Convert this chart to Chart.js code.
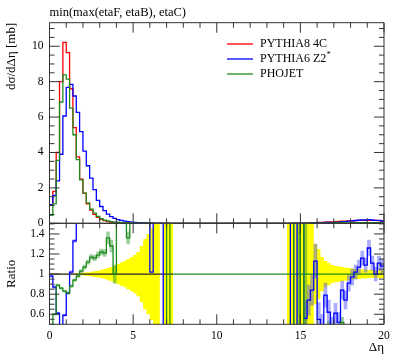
<!DOCTYPE html>
<html><head><meta charset="utf-8">
<script src="https://cdn.jsdelivr.net/npm/chart.js@4/dist/chart.umd.min.js"></script>
<style>
html,body{margin:0;padding:0;background:#fff;}
#wrap{position:relative;width:397px;height:358px;overflow:hidden;background:#fff;}
canvas{position:absolute;left:0;}
#c1{top:0}
#c2{top:215px}
</style></head><body>
<div id="wrap"><canvas id="c1" width="397" height="232"></canvas><canvas id="c2" width="397" height="143"></canvas></div>
<script>
// ---------------- DATA ----------------
const chartTitle = 'min(max(etaF, etaB), etaC)';
const seriesNames = ['PYTHIA8 4C', 'PYTHIA6 Z2*', 'PHOJET'];
const binEdges = Array.from({length: 101}, (_, i) => +(i * 0.2).toFixed(1)); // Δη bins, 0..20
const xTickLabels = [0, 5, 10, 15, 20];
const yTickLabels = [0, 2, 4, 6, 8, 10];
const ratioTickLabels = [0.6, 0.8, 1, 1.2, 1.4];

const pythia8 = [
1.05, 1.8, 4.0, 8.0, 10.22, 9.64, 7.6, 5.4, 3.75, 2.5,
1.7, 1.1, 0.75, 0.5, 0.33, 0.22, 0.15, 0.1, 0.07, 0.05,
0.035, 0.025, 0.018, 0.012, 0.008, 0.006, 0.004, 0.003, 0.002, 0.0015,
0.001, 0.0008, 0.0005, 0.0003, 0, 0, 0, 0, 0, 0,
0, 0, 0, 0, 0, 0, 0, 0, 0, 0,
0, 0, 0, 0, 0, 0, 0, 0, 0, 0,
0, 0, 0, 0, 0, 0, 0, 0, 0, 0,
0, 0.001, 0.002, 0.003, 0.005, 0.008, 0.012, 0.018, 0.025, 0.035,
0.045, 0.055, 0.065, 0.075, 0.085, 0.095, 0.105, 0.115, 0.125, 0.135,
0.145, 0.155, 0.16, 0.165, 0.17, 0.17, 0.165, 0.16, 0.15, 0.12];

const pythia6 = [
1.05, 1.57, 2.4, 3.9, 6.06, 7.68, 7.85, 7.19, 6.27, 5.18,
4.08, 3.25, 2.55, 1.9, 1.3, 0.95, 0.72, 0.52, 0.38, 0.28,
0.21, 0.16, 0.12, 0.09, 0.07, 0.05, 0.04, 0.03, 0.02, 0.015,
0.01, 0.008, 0.005, 0.004, 0.003, 0.002, 0.001, 0, 0, 0,
0, 0, 0, 0, 0, 0, 0, 0, 0, 0,
0, 0, 0, 0, 0, 0, 0, 0, 0, 0,
0, 0, 0, 0, 0, 0, 0, 0, 0, 0,
0, 0.001, 0.001, 0.002, 0.003, 0.005, 0.007, 0.013, 0.021, 0.04,
0.025, 0.028, 0.05, 0.047, 0.04, 0.058, 0.055, 0.097, 0.092, 0.123,
0.14, 0.158, 0.171, 0.19, 0.185, 0.21, 0.185, 0.16, 0.167, 0.13];

const phojet = [
0.45, 1.1, 3.55, 6.85, 8.38, 8.14, 6.5, 5.0, 3.6, 2.45,
1.7, 1.15, 0.8, 0.58, 0.39, 0.26, 0.18, 0.135, 0.09, 0.05,
0.06, 0.04, 0.03, 0.017, 0.012, 0.008, 0.006, 0.004, 0.003, 0.002,
0.0015, 0.001, 0.0008, 0.0005, 0.0003, 0, 0, 0, 0, 0,
0, 0, 0, 0, 0, 0, 0, 0, 0, 0,
0, 0, 0, 0, 0, 0, 0, 0, 0, 0,
0, 0, 0, 0, 0, 0, 0, 0, 0, 0,
0, 0, 0.001, 0, 0.001, 0, 0.001, 0.002, 0.003, 0.004,
0.005, 0.006, 0.008, 0.01, 0.012, 0.045, 0.015, 0.055, 0.02, 0.025,
0.03, 0.03, 0.03, 0.035, 0.035, 0.035, 0.03, 0.03, 0.03, 0.025];

// ratio panel (MC / PYTHIA8 4C), off-scale values are clipped by the panel
const ratioPythia6 = [
0.98, 0.87, 0.61, 0.45, 0.59, 0.81, 1.02, 1.33, 1.67, 2.07,
2.4, 2.95, 3.4, 3.8, 3.9, 4.3, 4.8, 5.2, 5.4, 5.6,
6.0, 6.4, 6.7, 7.5, 8.8, 8.3, 10, 10, 10, 10,
1.02, 10, 10, 10, 0.2, null, null, null, null, null,
null, null, null, null, null, null, null, null, null, null,
null, null, null, null, null, null, null, null, null, null,
null, null, null, null, null, null, null, null, null, null,
null, 10, 0.2, 10, 0.2, 10, 0.56, 0.74, 0.84, 1.13,
0.55, 0.45, 0.79, 0.62, 0.45, 0.61, 0.52, 0.84, 0.74, 0.91,
0.97, 1.02, 1.07, 1.16, 1.09, 1.26, 1.11, 1.0, 1.11, 1.08];

const ratioPhojet = [
0.43, 0.6, 0.89, 0.86, 0.83, 0.81, 0.88, 0.94, 0.98, 1.03,
1.07, 1.12, 1.17, 1.16, 1.19, 1.22, 1.21, 1.36, 1.28, 1.0,
1.7, 1.8, 2.0, 1.36, 1.9, 2.2, 2.5, 3.0, 2.8, 4.0,
3.5, 5, 6, 8, 10, 0.2, 10, null, null, null,
null, null, null, null, null, null, null, null, null, null,
null, null, null, null, null, null, null, null, null, null,
null, null, null, null, null, null, null, null, null, null,
null, 10, 10, 0.2, 0.2, 10, 0.2, 0.3, 0.3, 0.35,
0.3, 0.4, 0.35, 0.48, 0.3, 0.35, 0.4, 0.52, 0.35, 0.3,
0.3, 0.35, 0.3, 0.3, 0.35, 0.3, 0.3, 0.3, 0.3, 0.3];

const errPythia6 = [
0.01, 0.012, 0.012, 0.015, 0.01, 0.01, 0.012, 0.015, null, null,
null, null, null, null, null, null, null, null, null, null,
null, null, null, null, null, null, null, null, null, null,
null, null, null, null, null, null, null, null, null, null,
null, null, null, null, null, null, null, null, null, null,
null, null, null, null, null, null, null, null, null, null,
null, null, null, null, null, null, null, null, null, null,
null, null, null, null, null, null, 0.17, 0.15, 0.15, 0.17,
0.17, 0.15, 0.12, 0.12, 0.12, 0.1, 0.1, 0.09, 0.09, 0.08,
0.08, 0.07, 0.07, 0.07, 0.07, 0.08, 0.07, 0.07, 0.07, 0.07];

const errPhojet = [
0.01, 0.01, 0.01, 0.01, 0.01, 0.01, 0.012, 0.012, 0.015, 0.015,
0.02, 0.02, 0.025, 0.025, 0.03, 0.03, 0.035, 0.06, 0.06, 0.09,
null, null, null, 0.06, null, null, null, null, null, null,
null, null, null, null, null, null, null, null, null, null,
null, null, null, null, null, null, null, null, null, null,
null, null, null, null, null, null, null, null, null, null,
null, null, null, null, null, null, null, null, null, null,
null, null, null, null, 3, null, 3, null, null, null,
null, null, null, 0.05, null, null, null, 0.05, null, null,
null, null, null, null, null, null, null, null, null, null];

// relative uncertainty of the reference (yellow band); 2 = beyond the panel
const refRelErr = [
0.003, 0.003, 0.003, 0.003, 0.003, 0.004, 0.005, 0.007, 0.009, 0.012,
0.015, 0.019, 0.023, 0.028, 0.034, 0.04, 0.05, 0.06, 0.07, 0.085,
0.1, 0.115, 0.13, 0.15, 0.17, 0.19, 0.22, 0.28, 0.35, 0.4,
0.46, 2, 2, null, 2, 2, 2, null, null, null,
null, null, null, null, null, null, null, null, null, null,
null, null, null, null, null, null, null, null, null, null,
null, null, null, null, null, null, null, null, null, null,
null, 2, 2, 2, 2, 2, 2, 2, 0.5, 0.3,
0.25, 0.17, 0.13, 0.11, 0.09, 0.08, 0.075, 0.07, 0.065, 0.06,
0.055, 0.05, 0.05, 0.045, 0.045, 0.04, 0.04, 0.04, 0.04, 0.04];

const refRatio = [
1, 1, 1, 1, 1, 1, 1, 1, 1, 1, 1, 1, 1, 1, 1, 1, 1, 1, 1, 1,
1, 1, 1, 1, 1, 1, 1, 1, 1, 1, 1, 1, 1, 1, 1, 1, 1, 1, 1, 1,
1, 1, 1, 1, 1, 1, 1, 1, 1, 1, 1, 1, 1, 1, 1, 1, 1, 1, 1, 1,
1, 1, 1, 1, 1, 1, 1, 1, 1, 1, 1, 1, 1, 1, 1, 1, 1, 1, 1, 1,
1, 1, 1, 1, 1, 1, 1, 1, 1, 1, 1, 1, 1, 1, 1, 1, 1, 1, 1, 1];

// ---------------- STYLE ----------------
const COL = {red: '#ff0000', blue: '#0000ff', green: '#1f8a1f', frame: '#333333'};
const FONT = '"Liberation Serif", "Times New Roman", serif';
const unityGreenFrom = 7.4;

// ---------------- HELPERS ----------------
function histPoints(values) {
  const pts = [];
  values.forEach((v, i) => {
    if (v === null || v === undefined) { pts.push({x: binEdges[i], y: null}); return; }
    pts.push({x: binEdges[i], y: v}, {x: binEdges[i + 1], y: v});
  });
  return pts;
}
function errBars(ratio, err) {
  const out = [];
  ratio.forEach((r, i) => {
    if (r === null || err[i] === null) return;
    out.push({x: (binEdges[i] + binEdges[i + 1]) / 2, y: [r - err[i], r + err[i]]});
  });
  return out;
}
const bandHi = refRelErr.map((e, i) => e === null ? null : refRatio[i] + e);
const bandLo = refRelErr.map((e, i) => e === null ? null : refRatio[i] - e);

const frameTicks = {
  id: 'frameTicks',
  afterDatasetsDraw(chart, args, o) {
    const {ctx, chartArea: a} = chart;
    const xs = chart.scales.x, ys = chart.scales.y;
    ctx.save();
    ctx.strokeStyle = COL.frame; ctx.lineWidth = 1;
    ctx.beginPath();
    const nX = Math.round((xs.max - xs.min) / o.xMinor);
    for (let k = 0; k <= nX; k++) {
      const v = xs.min + k * o.xMinor;
      const major = Math.abs(v / o.xMajor - Math.round(v / o.xMajor)) < 1e-6;
      const L = major ? o.majorLen : o.minorLen;
      const p = xs.getPixelForValue(v);
      ctx.moveTo(p, a.top); ctx.lineTo(p, a.top + L);
      ctx.moveTo(p, a.bottom); ctx.lineTo(p, a.bottom - L);
    }
    const nY = Math.floor((ys.max - o.yStart) / o.yMinor + 1e-6);
    for (let k = 0; k <= nY; k++) {
      const v = o.yStart + k * o.yMinor;
      const major = Math.abs(v / o.yMajor - Math.round(v / o.yMajor)) < 1e-6;
      const L = major ? o.majorLen : o.minorLen;
      const p = ys.getPixelForValue(v);
      ctx.moveTo(a.left, p); ctx.lineTo(a.left + L, p);
      ctx.moveTo(a.right, p); ctx.lineTo(a.right - L, p);
    }
    ctx.rect(a.left, a.top, a.right - a.left, a.bottom - a.top);
    ctx.stroke();
    ctx.restore();
  }
};

const texts = {
  id: 'texts',
  afterDraw(chart) {
    const ctx = chart.ctx; const a = chart.chartArea;
    ctx.save();
    ctx.fillStyle = '#000'; ctx.textAlign = 'left'; ctx.textBaseline = 'middle';
    ctx.font = '12.5px ' + FONT;
    ctx.fillText(chartTitle, a.left, 12.5);
    const cols = [COL.red, COL.blue, COL.green];
    seriesNames.forEach((name, i) => {
      const y = 44 + i * 15;
      ctx.strokeStyle = cols[i]; ctx.lineWidth = 1.3;
      ctx.beginPath(); ctx.moveTo(227, y); ctx.lineTo(253, y); ctx.stroke();
      ctx.font = '12px ' + FONT;
      if (name.endsWith('*')) {
        const base = name.slice(0, -1);
        ctx.fillText(base, 260, y);
        const w = ctx.measureText(base).width;
        ctx.font = '8px ' + FONT;
        ctx.fillText('*', 260 + w + 0.5, y - 4);
      } else {
        ctx.fillText(name, 260, y);
      }
    });
    ctx.restore();
  }
};

function fixW(w) { return s => { s.width = w; s.paddingTop = 0; s.paddingBottom = 0; }; }
function fixH(h) { return s => { s.height = h; s.paddingLeft = 0; s.paddingRight = 0; }; }
const noGrid = {display: false, drawTicks: false};

// ---------------- MAIN PANEL ----------------
const lineDs = (label, values, color, order) => ({
  label, data: histPoints(values), borderColor: color, borderWidth: 1.3,
  pointRadius: 0, fill: false, tension: 0, spanGaps: false, order
});

new Chart(document.getElementById('c1'), {
  type: 'line',
  data: {datasets: [
    lineDs(seriesNames[0], pythia8, COL.red, 3),
    lineDs(seriesNames[1], pythia6, COL.blue, 2),
    lineDs(seriesNames[2], phojet, COL.green, 1)
  ]},
  options: {
    responsive: false, animation: false, events: [], devicePixelRatio: 1,
    layout: {padding: {top: 22.7, bottom: 8.7, left: 0, right: 13}},
    plugins: {legend: {display: false}, tooltip: {enabled: false},
      frameTicks: {xMajor: 5, xMinor: 1, yMajor: 2, yMinor: 0.5, yStart: 0, majorLen: 10, minorLen: 5}},
    scales: {
      x: {type: 'linear', display: false, min: 0, max: 20, offset: false},
      y: {type: 'linear', min: 0, max: 11.33,
        grid: noGrid, border: {display: false},
        afterBuildTicks: s => { s.ticks = yTickLabels.map(v => ({value: v})); },
        afterFit: fixW(49.5),
        ticks: {padding: 6, color: '#000', font: {family: FONT, size: 11.5}, callback: v => String(v)},
        title: {display: true, text: 'dσ/dΔη [mb]', align: 'end', color: '#000',
          font: {family: FONT, size: 13}, padding: {top: 4, bottom: 0}}
      }
    }
  },
  plugins: [frameTicks, texts]
});

// ---------------- RATIO PANEL ----------------
new Chart(document.getElementById('c2'), {
  type: 'line',
  data: {datasets: [
    {label: 'bandLo', data: histPoints(bandLo), borderWidth: 0, borderColor: 'rgba(0,0,0,0)', pointRadius: 0, fill: false, order: 20},
    {label: 'bandHi', data: histPoints(bandHi), borderWidth: 0, borderColor: 'rgba(0,0,0,0)', pointRadius: 0,
      fill: '-1', backgroundColor: '#ffff00', order: 19},
    {type: 'bar', label: 'errP6', data: errBars(ratioPythia6, errPythia6), backgroundColor: 'rgba(70,70,255,0.45)',
      borderWidth: 0, barThickness: 3, grouped: false, order: 8},
    {type: 'bar', label: 'errPH', data: errBars(ratioPhojet, errPhojet), backgroundColor: 'rgba(40,150,40,0.45)',
      borderWidth: 0, barThickness: 3, grouped: false, order: 7},
    {label: 'reference', data: histPoints(refRatio), borderWidth: 1.2, pointRadius: 0, fill: false, order: 5,
      borderColor: '#222',
      segment: {borderColor: c => c.p0.parsed.x >= unityGreenFrom ? COL.green : '#222'}},
    {label: seriesNames[1], data: histPoints(ratioPythia6), borderColor: COL.blue, borderWidth: 1.3, pointRadius: 0, fill: false, order: 2},
    {label: seriesNames[2], data: histPoints(ratioPhojet), borderColor: COL.green, borderWidth: 1.3, pointRadius: 0, fill: false, order: 1}
  ]},
  options: {
    responsive: false, animation: false, events: [], devicePixelRatio: 1,
    layout: {padding: {top: 8.3, bottom: 0, left: 0, right: 13}},
    plugins: {legend: {display: false}, tooltip: {enabled: false}, filler: {propagate: false},
      frameTicks: {xMajor: 5, xMinor: 1, yMajor: 0.2, yMinor: 0.05, yStart: 0.5, majorLen: 10, minorLen: 5}},
    scales: {
      x: {type: 'linear', min: 0, max: 20, offset: false,
        grid: noGrid, border: {display: false},
        afterBuildTicks: s => { s.ticks = xTickLabels.map(v => ({value: v})); },
        afterFit: fixH(33.7),
        ticks: {padding: 5, color: '#000', autoSkip: false, maxRotation: 0, font: {family: FONT, size: 11.5}, callback: v => String(v)},
        title: {display: true, text: 'Δη', align: 'end', color: '#000', font: {family: FONT, size: 13}, padding: {top: 0, bottom: 3}}
      },
      y: {type: 'linear', min: 0.5, max: 1.506,
        grid: noGrid, border: {display: false},
        afterBuildTicks: s => { s.ticks = ratioTickLabels.map(v => ({value: v})); },
        afterFit: fixW(49.5),
        ticks: {padding: 5, color: '#000', font: {family: FONT, size: 11.5}, callback: v => String(Math.round(v * 10) / 10)},
        title: {display: true, text: 'Ratio', align: 'center', color: '#000', font: {family: FONT, size: 13}, padding: {top: 4, bottom: 0}}
      }
    }
  },
  plugins: [frameTicks]
});
</script>
</body></html>
